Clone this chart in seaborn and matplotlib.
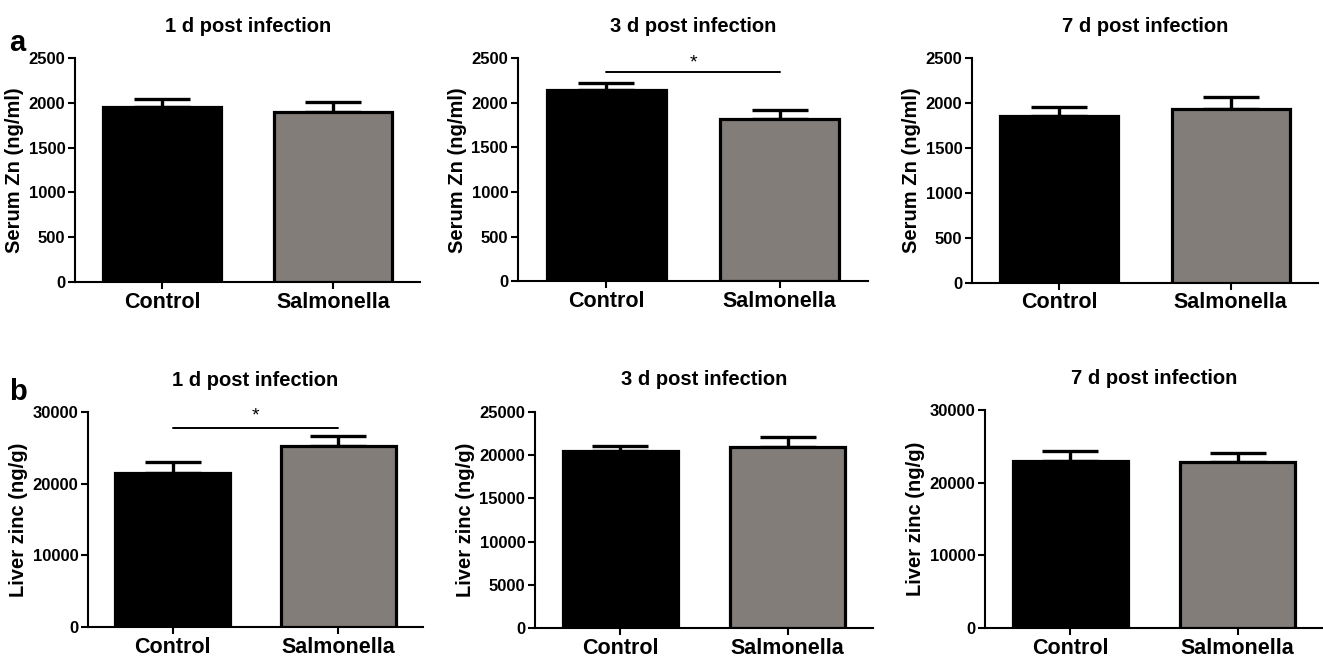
import numpy as np
import pandas as pd
import matplotlib
matplotlib.use("Agg")
import matplotlib.pyplot as plt
import seaborn as sns

# data (mean and upper error, SEM)
groups = ["Control", "Salmonella"]
days = ["1 d post infection", "3 d post infection", "7 d post infection"]

serum_mean = [[1955, 1895], [2145, 1815], [1860, 1927]]
serum_err = [[90, 118], [72, 108], [90, 137]]

liver_mean = [[21500, 25250], [20430, 20970], [22990, 22810]]
liver_err = [[1520, 1350], [650, 1110], [1380, 1240]]

serum_ticks = [0, 500, 1000, 1500, 2000, 2500]
liver_ticks = [[0, 10000, 20000, 30000],
               [0, 5000, 10000, 15000, 20000, 25000],
               [0, 10000, 20000, 30000]]

# significance markers: (row, col, line height, star height)
sig_marks = [(0, 1, 2340, 2440), (1, 0, 27800, 29400)]

bar_colors = ["#000000", "#857c77"]

sns.set_theme(style="ticks")
plt.rcParams["font.family"] = ["Liberation Sans", "DejaVu Sans"]
plt.rcParams["font.weight"] = "bold"
for key in ["text.color", "axes.labelcolor", "xtick.color", "ytick.color", "axes.edgecolor"]:
    plt.rcParams[key] = "black"

fig = plt.figure(figsize=(13.23, 6.59), dpi=100)

# axes boxes in figure fraction
top_boxes = [[0.0567, 0.572, 0.261, 0.340],
             [0.3915, 0.573, 0.2646, 0.339],
             [0.7347, 0.571, 0.2615, 0.341]]
bot_boxes = [[0.0665, 0.0486, 0.2532, 0.326],
             [0.4044, 0.0470, 0.2555, 0.328],
             [0.7445, 0.0470, 0.2555, 0.331]]

axes = [[fig.add_axes(b) for b in top_boxes], [fig.add_axes(b) for b in bot_boxes]]


def draw_panel(ax, means, errs, ticks, ylabel, title):
    df = pd.DataFrame({"group": groups, "value": means})
    sns.barplot(data=df, x="group", y="value", hue="group", palette=bar_colors,
                width=0.69, edgecolor="black", linewidth=2.3, legend=False,
                ax=ax, zorder=3)
    xs = np.arange(len(groups))
    ax.errorbar(xs, means, yerr=[np.zeros(len(errs)), errs], fmt="none",
                ecolor="black", elinewidth=2.4, capsize=20.5, capthick=2.4, zorder=2)
    ax.set_xlim(-0.51, 1.51)
    ax.set_ylim(0, ticks[-1])
    ax.set_yticks(ticks)
    ax.set_yticklabels([str(t) for t in ticks], fontsize=12, fontweight="bold")
    ax.set_xticks(xs)
    ax.set_xticklabels(groups, fontsize=15.5, fontweight="bold")
    ax.set_xlabel("")
    ax.set_ylabel(ylabel, fontsize=14.5, fontweight="bold", labelpad=3)
    ax.set_title(title, fontsize=14.5, fontweight="bold", pad=19)
    sns.despine(ax=ax)
    for s in ["left", "bottom"]:
        ax.spines[s].set_linewidth(1.5)
        ax.spines[s].set_color("black")
    ax.tick_params(axis="both", width=1.5, length=5, color="black", pad=2)


for j in range(3):
    draw_panel(axes[0][j], serum_mean[j], serum_err[j], serum_ticks,
               "Serum Zn (ng/ml)", days[j])
    draw_panel(axes[1][j], liver_mean[j], liver_err[j], liver_ticks[j],
               "Liver zinc (ng/g)", days[j])

for r, c, line_y, star_y in sig_marks:
    ax = axes[r][c]
    ax.plot([0, 1], [line_y, line_y], color="black", lw=1.4, clip_on=False)
    ax.text(0.5, star_y, "*", ha="center", va="center", fontsize=14,
            fontweight="normal", clip_on=False)

fig.text(0.007, 0.935, "a", fontsize=21, fontweight="bold", va="center")
fig.text(0.007, 0.405, "b", fontsize=21, fontweight="bold", va="center")

fig.savefig("out.png", dpi=100)
